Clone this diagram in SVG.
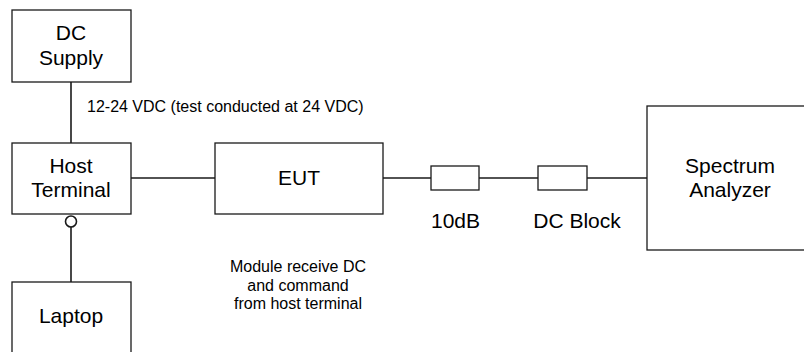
<svg xmlns="http://www.w3.org/2000/svg" width="804" height="352" viewBox="0 0 804 352">
<style>
.box{fill:#fff;stroke:#1a1a1a;stroke-width:1.3}
.ln{fill:none;stroke:#1a1a1a;stroke-width:1.6}
.big{font-family:"Liberation Sans",Arial,sans-serif;font-size:21px;fill:#000;text-anchor:middle}
.sm{font-family:"Liberation Sans",Arial,sans-serif;font-size:16px;fill:#000}
.smc{font-family:"Liberation Sans",Arial,sans-serif;font-size:16px;fill:#000;text-anchor:middle}
</style>
<rect width="804" height="352" fill="#fff"/>
<g id="connectors">
<line class="ln" x1="71" y1="82" x2="71" y2="143"/>
<line class="ln" x1="131" y1="178" x2="215" y2="178"/>
<line class="ln" x1="383" y1="178" x2="431" y2="178"/>
<line class="ln" x1="479" y1="178" x2="538" y2="178"/>
<line class="ln" x1="587" y1="178" x2="647" y2="178"/>
<line class="ln" x1="71" y1="227" x2="71" y2="282"/>
<circle cx="71" cy="221.5" r="5.5" fill="#fff" stroke="#1a1a1a" stroke-width="1.6"/>
<text class="sm" x="87" y="112">12-24 VDC (test conducted at 24 VDC)</text>
</g>
<g id="dc-supply">
<rect class="box" x="12" y="10" width="119" height="72"/>
<text class="big" x="71" y="40">DC</text>
<text class="big" x="71" y="65">Supply</text>
</g>
<g id="host-terminal">
<rect class="box" x="12" y="143" width="119" height="71"/>
<text class="big" x="71" y="173">Host</text>
<text class="big" x="71" y="197">Terminal</text>
</g>
<g id="laptop">
<rect class="box" x="12" y="282" width="119" height="80"/>
<text class="big" x="71" y="323">Laptop</text>
</g>
<g id="eut">
<rect class="box" x="215" y="143" width="168" height="71"/>
<text class="big" x="299" y="185">EUT</text>
</g>
<g id="note">
<text class="smc" x="298" y="272">Module receive DC</text>
<text class="smc" x="298" y="291">and command</text>
<text class="smc" x="298" y="309">from host terminal</text>
</g>
<g id="attenuator">
<rect class="box" x="431" y="166" width="48" height="24"/>
<text class="big" x="455.5" y="228">10dB</text>
</g>
<g id="dc-block">
<rect class="box" x="538" y="166" width="49" height="24"/>
<text class="big" x="577" y="228">DC Block</text>
</g>
<g id="spectrum-analyzer">
<rect class="box" x="647" y="106" width="170" height="144"/>
<text class="big" x="730" y="173">Spectrum</text>
<text class="big" x="730" y="197">Analyzer</text>
</g>
</svg>
